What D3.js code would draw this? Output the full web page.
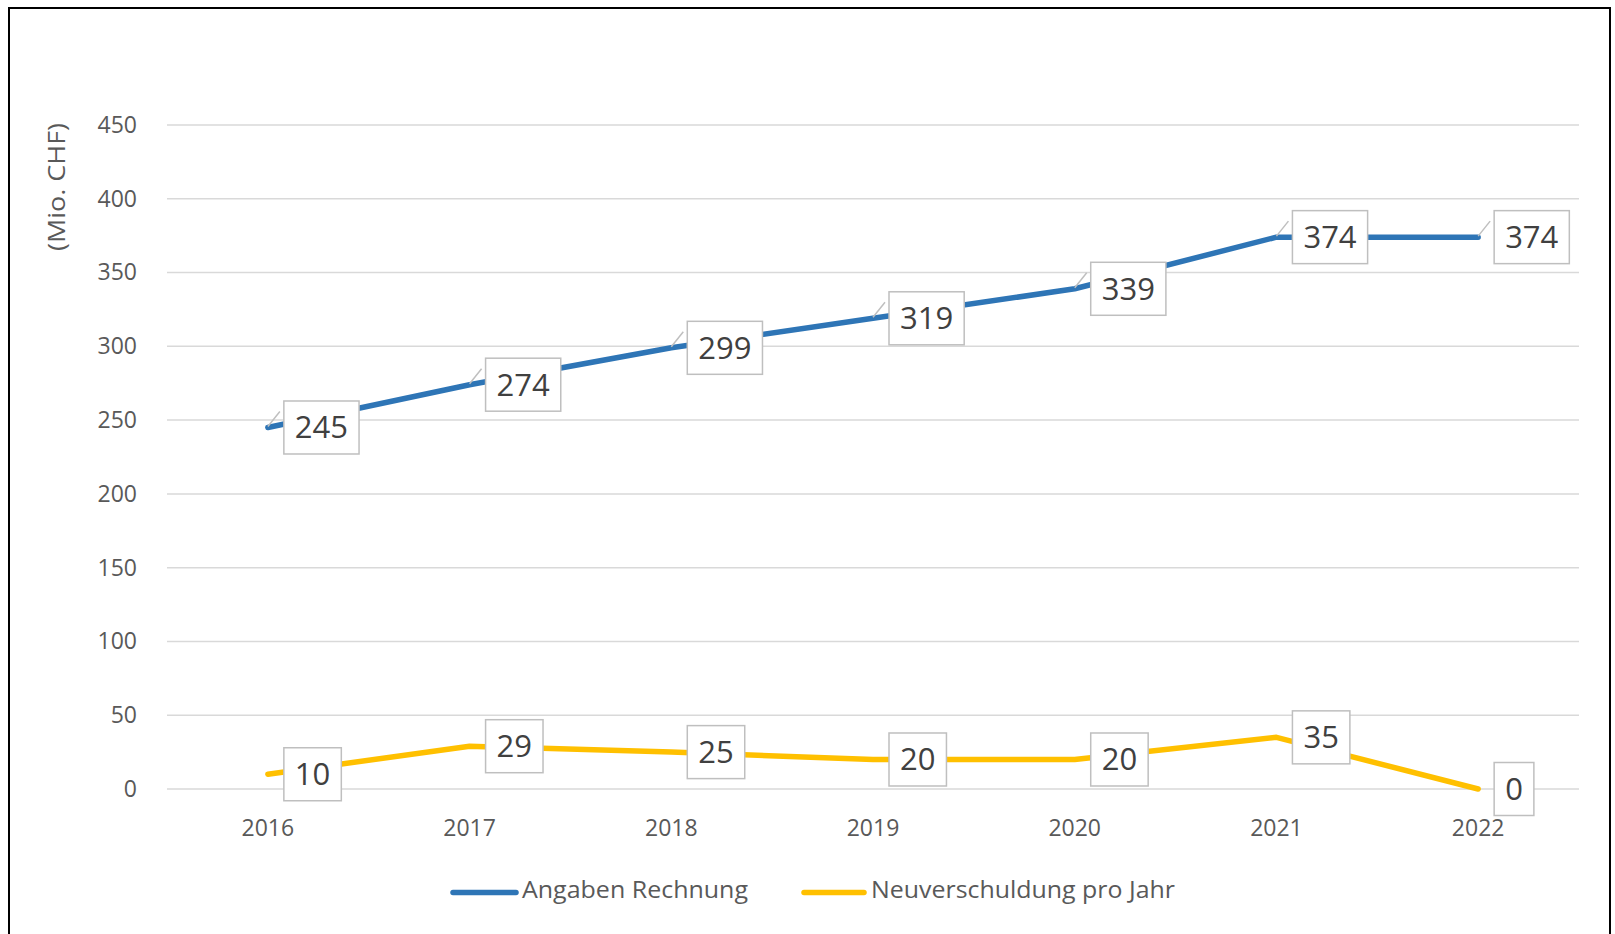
<!DOCTYPE html>
<html>
<head>
<meta charset="utf-8">
<script src="https://cdn.jsdelivr.net/npm/d3@7"></script>
<style>
  html, body { margin: 0; padding: 0; background: #fff; }
  svg { display: block; font-family: "Open Sans", sans-serif; }
</style>
</head>
<body>
<svg id="chart" width="1615" height="934"></svg>
<script>
const years = ["2016", "2017", "2018", "2019", "2020", "2021", "2022"];
const angaben = [245, 274, 299, 319, 339, 374, 374];
const neuverschuldung = [10, 29, 25, 20, 20, 35, 0];
const yTicks = [0, 50, 100, 150, 200, 250, 300, 350, 400, 450];
const seriesNames = ["Angaben Rechnung", "Neuverschuldung pro Jahr"];
const colors = ["#2E75B6", "#FFC000"];

const svg = d3.select("#chart");

// outer frame (bottom edge runs off the picture)
svg.append("rect")
    .attr("x", 9).attr("y", 8)
    .attr("width", 1601).attr("height", 960)
    .attr("fill", "none")
    .attr("stroke", "#000")
    .attr("stroke-width", 2);

const x = d3.scaleBand().domain(years).range([167, 1579]).padding(0);
const y = d3.scaleLinear().domain([0, 450]).range([789, 125]);
const cx = d => x(d) + x.bandwidth() / 2;

// gridlines
svg.append("g")
    .selectAll("line")
    .data(yTicks)
    .join("line")
    .attr("x1", 167).attr("x2", 1579)
    .attr("y1", d => y(d)).attr("y2", d => y(d))
    .attr("stroke", "#d9d9d9")
    .attr("stroke-width", 1.5);

// y axis labels
const yAxis = svg.append("g")
    .attr("transform", "translate(137,0)")
    .call(d3.axisLeft(y).tickValues(yTicks).tickSize(0).tickPadding(0));
yAxis.select(".domain").remove();
yAxis.selectAll("text")
    .attr("fill", "#595959")
    .style("font-size", "23px")
    .style("font-family", "'Open Sans', sans-serif");

// x axis labels
const xAxis = svg.append("g")
    .attr("transform", "translate(0,818)")
    .call(d3.axisBottom(x).tickSize(0).tickPadding(0));
xAxis.select(".domain").remove();
xAxis.selectAll("text")
    .attr("fill", "#595959")
    .attr("dy", "0.8em")
    .style("font-size", "23px")
    .style("font-family", "'Open Sans', sans-serif");

// y axis title
svg.append("text")
    .attr("transform", "translate(65,187) rotate(-90)")
    .attr("text-anchor", "middle")
    .attr("fill", "#595959")
    .style("font-size", "23px")
    .attr("textLength", 128)
    .attr("lengthAdjust", "spacingAndGlyphs")
    .text("(Mio. CHF)");

const line = d3.line()
    .x((d, i) => cx(years[i]))
    .y(d => y(d));

[angaben, neuverschuldung].forEach((vals, s) => {
    svg.append("path")
        .datum(vals)
        .attr("fill", "none")
        .attr("stroke", colors[s])
        .attr("stroke-width", 5.5)
        .attr("stroke-linejoin", "round")
        .attr("stroke-linecap", "round")
        .attr("d", line);
});

// data labels
function drawLabels(vals, leader) {
    const g = svg.append("g");
    vals.forEach((v, i) => {
        const px = cx(years[i]), py = y(v);
        if (leader) {
            g.append("line")
                .attr("x1", px).attr("y1", py - 1)
                .attr("x2", px + 12).attr("y2", py - 16)
                .attr("stroke", "#bfbfbf")
                .attr("stroke-width", 1.5);
        }
        const box = g.append("rect");
        const t = g.append("text")
            .attr("fill", "#404040")
            .style("font-size", "31px")
            .attr("text-anchor", "middle")
            .text(v);
        const w = t.node().getComputedTextLength() + 22;
        box.attr("x", px + 16).attr("y", py - 26.5)
            .attr("width", w).attr("height", 53)
            .attr("fill", "#fff")
            .attr("stroke", "#bfbfbf")
            .attr("stroke-width", 1.5);
        t.attr("x", px + 16 + w / 2).attr("y", py + 11);
    });
}
drawLabels(angaben, true);
drawLabels(neuverschuldung, false);

// legend
const legendPos = [
    { x1: 453, x2: 516, tx: 522, len: 226 },
    { x1: 804, x2: 864, tx: 871, len: 304 }
];
seriesNames.forEach((name, i) => {
    const p = legendPos[i];
    svg.append("line")
        .attr("x1", p.x1).attr("x2", p.x2)
        .attr("y1", 892.5).attr("y2", 892.5)
        .attr("stroke", colors[i])
        .attr("stroke-width", 5.5)
        .attr("stroke-linecap", "round");
    svg.append("text")
        .attr("x", p.tx).attr("y", 898)
        .attr("fill", "#595959")
        .style("font-size", "23px")
        .attr("textLength", p.len)
        .attr("lengthAdjust", "spacingAndGlyphs")
        .text(name);
});
</script>
</body>
</html>
